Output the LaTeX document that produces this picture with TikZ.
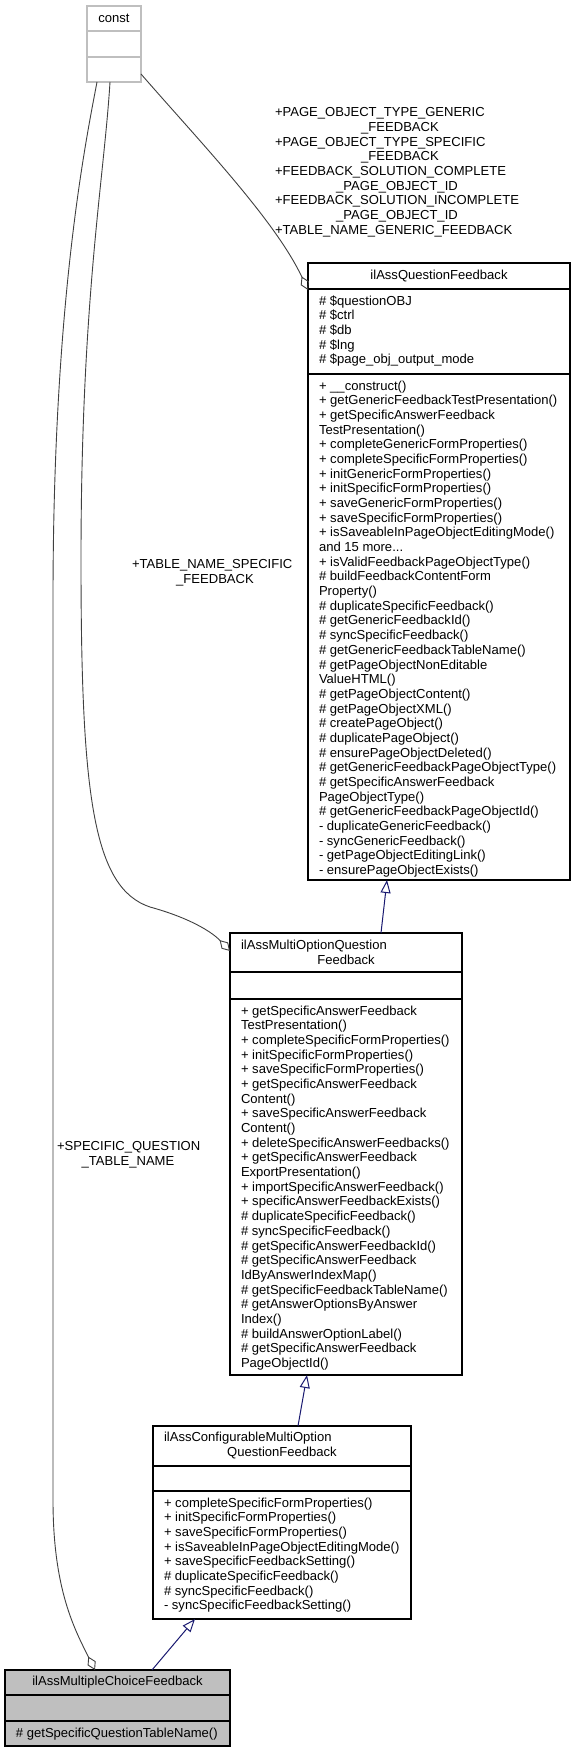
\documentclass[tikz,border=0pt]{standalone}
\usepackage{fontspec}
\setmainfont{Liberation Sans}
\usetikzlibrary{arrows.meta,calc}
\definecolor{edgegrey}{HTML}{404040}
\definecolor{inhblue}{HTML}{191970}
\definecolor{boxgrey}{HTML}{BFBFBF}
\begin{document}
\begin{tikzpicture}[x=1pt,y=-1pt,
  every node/.style={font=\fontsize{13.05}{14.67}\selectfont, inner sep=0pt, outer sep=0pt},
  cls/.style={draw=black, line width=1.1pt, fill=white, anchor=north west, minimum width=#1},
  sep/.style={draw=black, line width=1.1pt},
  txt/.style={anchor=north west, align=left},
  agg/.style={draw=edgegrey, line width=0.9pt, -{Diamond[open,length=15pt,width=9pt,line width=0.9pt]}},
  inh/.style={draw=inhblue, line width=1pt, -{Triangle[open,length=13pt,width=10pt,line width=1pt]}}
]
\useasboundingbox (0,0) rectangle (575,1752);
\fill[white] (0,0) rectangle (575,1752);

% ---- const ----
\node[cls=54pt, draw=boxgrey, minimum height=76pt] (const) at (87,6) {};
\draw[boxgrey, line width=1.1pt] (87,31) -- (141,31) (87,57) -- (141,57);
\node (constT) at (114,18) {const};

% ---- ilAssQuestionFeedback ----
\node[cls=262pt, minimum height=617pt] (qf) at (308,263) {};
\draw[sep] (308,289) -- (570,289) (308,374) -- (570,374);
\node (qfT) at (439,276) {ilAssQuestionFeedback};
\node[txt] (qfA) at (319,295) {\strut\# \$questionOBJ\\ \# \$ctrl\\ \# \$db\\ \# \$lng\\ \# \$page\_obj\_output\_mode};
\node[txt] (qfM) at (319,380) {\strut+ \_\_construct()\\
+ getGenericFeedbackTestPresentation()\\
+ getSpecificAnswerFeedback\\
TestPresentation()\\
+ completeGenericFormProperties()\\
+ completeSpecificFormProperties()\\
+ initGenericFormProperties()\\
+ initSpecificFormProperties()\\
+ saveGenericFormProperties()\\
+ saveSpecificFormProperties()\\
+ isSaveableInPageObjectEditingMode()\\
and 15 more...\\
+ isValidFeedbackPageObjectType()\\
\# buildFeedbackContentForm\\
Property()\\
\# duplicateSpecificFeedback()\\
\# getGenericFeedbackId()\\
\# syncSpecificFeedback()\\
\# getGenericFeedbackTableName()\\
\# getPageObjectNonEditable\\
ValueHTML()\\
\# getPageObjectContent()\\
\# getPageObjectXML()\\
\# createPageObject()\\
\# duplicatePageObject()\\
\# ensurePageObjectDeleted()\\
\# getGenericFeedbackPageObjectType()\\
\# getSpecificAnswerFeedback\\
PageObjectType()\\
\# getGenericFeedbackPageObjectId()\\
- duplicateGenericFeedback()\\
- syncGenericFeedback()\\
- getPageObjectEditingLink()\\
- ensurePageObjectExists()};

% ---- ilAssMultiOptionQuestionFeedback ----
\node[cls=232pt, minimum height=442pt] (mo) at (230,933) {};
\draw[sep] (230,972) -- (462,972) (230,999) -- (462,999);
\node[txt] (moT) at (241,939.4) {\strut ilAssMultiOptionQuestion\\\makebox[210pt]{Feedback}};
\node[txt] (moM) at (241,1005) {\strut+ getSpecificAnswerFeedback\\
TestPresentation()\\
+ completeSpecificFormProperties()\\
+ initSpecificFormProperties()\\
+ saveSpecificFormProperties()\\
+ getSpecificAnswerFeedback\\
Content()\\
+ saveSpecificAnswerFeedback\\
Content()\\
+ deleteSpecificAnswerFeedbacks()\\
+ getSpecificAnswerFeedback\\
ExportPresentation()\\
+ importSpecificAnswerFeedback()\\
+ specificAnswerFeedbackExists()\\
\# duplicateSpecificFeedback()\\
\# syncSpecificFeedback()\\
\# getSpecificAnswerFeedbackId()\\
\# getSpecificAnswerFeedback\\
IdByAnswerIndexMap()\\
\# getSpecificFeedbackTableName()\\
\# getAnswerOptionsByAnswer\\
Index()\\
\# buildAnswerOptionLabel()\\
\# getSpecificAnswerFeedback\\
PageObjectId()};

% ---- ilAssConfigurableMultiOptionQuestionFeedback ----
\node[cls=258pt, minimum height=193pt] (cmo) at (153,1426) {};
\draw[sep] (153,1466) -- (411,1466) (153,1491) -- (411,1491);
\node[txt] (cmoT) at (164,1431.4) {\strut ilAssConfigurableMultiOption\\\makebox[236pt]{QuestionFeedback}};
\node[txt] (cmoM) at (164,1497) {\strut+ completeSpecificFormProperties()\\
+ initSpecificFormProperties()\\
+ saveSpecificFormProperties()\\
+ isSaveableInPageObjectEditingMode()\\
+ saveSpecificFeedbackSetting()\\
\# duplicateSpecificFeedback()\\
\# syncSpecificFeedback()\\
- syncSpecificFeedbackSetting()};

% ---- ilAssMultipleChoiceFeedback ----
\node[cls=225pt, minimum height=76pt, fill=boxgrey] (mc) at (5,1670) {};
\draw[sep] (5,1695) -- (230,1695) (5,1721) -- (230,1721);
\node (mcT) at (117.5,1682) {ilAssMultipleChoiceFeedback};
\node[txt] (mcM) at (16,1727.4) {\strut\# getSpecificQuestionTableName()};

% ---- edge labels ----
\node[txt] (l1) at (275,106.4) {\strut+PAGE\_OBJECT\_TYPE\_GENERIC\\
\hspace*{125pt}\makebox[0pt]{\_FEEDBACK}\\
+PAGE\_OBJECT\_TYPE\_SPECIFIC\\
\hspace*{125pt}\makebox[0pt]{\_FEEDBACK}\\
+FEEDBACK\_SOLUTION\_COMPLETE\\
\hspace*{122pt}\makebox[0pt]{\_PAGE\_OBJECT\_ID}\\
+FEEDBACK\_SOLUTION\_INCOMPLETE\\
\hspace*{122pt}\makebox[0pt]{\_PAGE\_OBJECT\_ID}\\
+TABLE\_NAME\_GENERIC\_FEEDBACK};
\node[txt] (l2) at (132,558.4) {\strut+TABLE\_NAME\_SPECIFIC\\\hspace*{83pt}\makebox[0pt]{\_FEEDBACK}};
\node[txt] (l3) at (57,1140.4) {\strut+SPECIFIC\_QUESTION\\\hspace*{71pt}\makebox[0pt]{\_TABLE\_NAME}};

% ---- aggregation connectors ----
\draw[agg] ($(const.north east)+(0,68)$) .. controls (201,143) and (275,220) .. ($(qf.north west)+(0,27)$);
\draw[agg] ($(const.south west)+(23,0)$) .. controls (104,180) and (81,300) .. (81,560)
  .. controls (81,795) and (93,888) .. (150,907)
  .. controls (190,918) and (212,932) .. ($(mo.north west)+(0,18)$);
\draw[agg] ($(const.south west)+(10,0)$) .. controls (86,140) and (53,300) .. (53,600)
  -- (53,1500) .. controls (53,1590) and (75,1630) .. ($(mc.north west)+(90,0)$);

% ---- inheritance connectors ----
\draw[inh] ($(mo.north west)+(151,0)$) -- ($(qf.south west)+(79,0)$);
\draw[inh] ($(cmo.north west)+(145,0)$) -- ($(mo.south west)+(77,0)$);
\draw[inh] ($(mc.north west)+(147,0)$) -- ($(cmo.south west)+(42,0)$);
\end{tikzpicture}
\end{document}
